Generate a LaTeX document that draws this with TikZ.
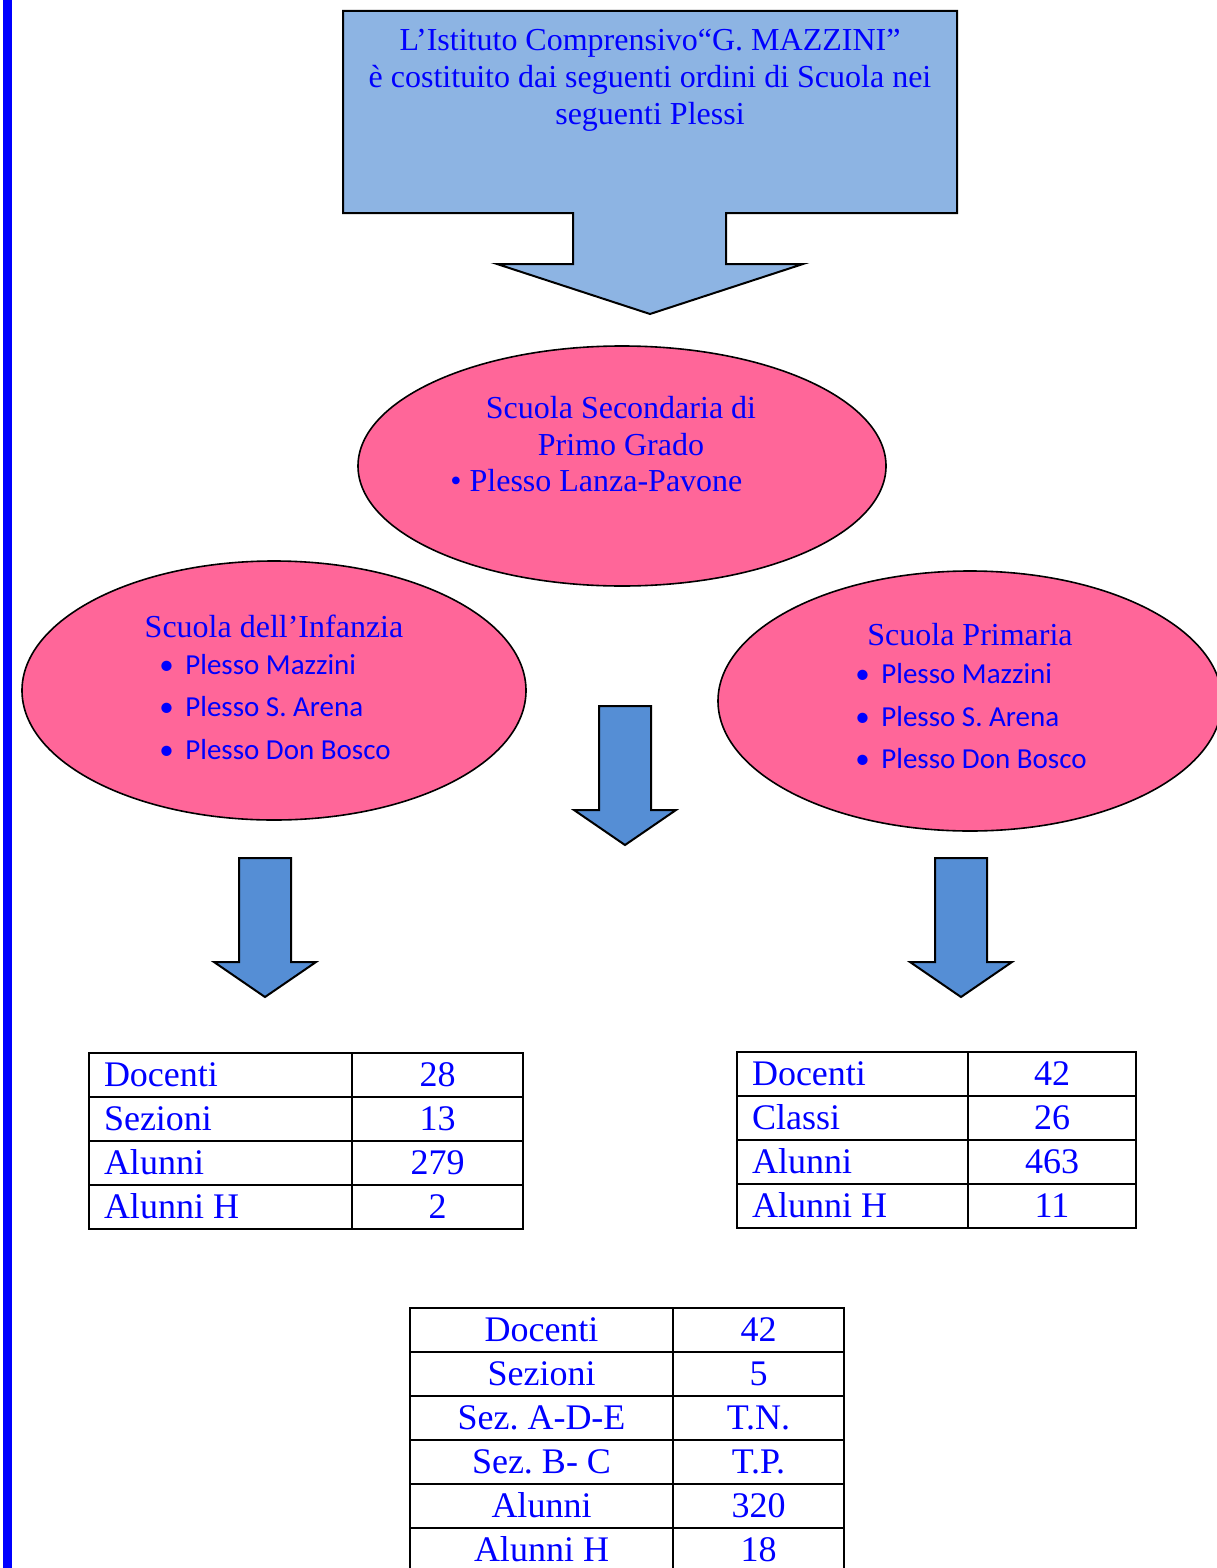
\documentclass[tikz,border=0pt]{standalone}
\usepackage{fontspec}
\setmainfont{Liberation Serif}
\newfontfamily\calibri{Carlito}
\usepackage{tikz}
\usetikzlibrary{positioning,shapes.geometric}
\usepackage{xcolor}

\definecolor{boxblue}{RGB}{141,180,227}
\definecolor{arrowblue}{RGB}{85,142,213}
\definecolor{schoolpink}{RGB}{255,102,153}

\newcommand{\pitem}[1]{\makebox[13pt][l]{•}#1}

\tikzset{
	callout/.style={draw=black, fill=boxblue, line width=1pt, line join=miter},
	blockarrow/.style={draw=black, fill=arrowblue, line width=1pt, line join=miter},
	school/.style={ellipse, draw=black, fill=schoolpink, line width=0.8pt, inner sep=0pt},
	txt/.style={text=blue, inner sep=0pt, align=center, font=\fontsize{16pt}{18.5pt}\selectfont},
	plist/.style={text=blue, inner sep=0pt, align=left, font=\calibri\fontsize{14.5pt}{21.25pt}\selectfont},
	cell/.style={draw=black, line width=1pt, rectangle, minimum height=22pt, inner ysep=0pt,
		text=blue, font=\fontsize{18pt}{21pt}\selectfont\frenchspacing, text height=13pt, text depth=1.3pt},
	keycell/.style={cell, inner xsep=7.5pt, align=flush left},
	valcell/.style={cell, inner xsep=0pt, align=center}
}

\begin{document}
\frenchspacing
\begin{tikzpicture}[x=0.5pt, y=-0.5pt]
\useasboundingbox (0,0) rectangle (1216,1568);
\fill[blue] (3,0) rectangle (12,1568);

% box on top, with its arrow
\draw[callout] (343,11) -- (957,11) -- (957,213) -- (726,213) -- (726,264) -- (803,264)
	-- (650,314) -- (497,264) -- (573,264) -- (573,213) -- (343,213) -- cycle;
\node[txt] (intro) at (650,80) {L’Istituto Comprensivo“G. MAZZINI”\\
	è costituito dai seguenti ordini di Scuola nei\\seguenti Plessi};

% the three schools
\node[school, minimum width=264pt, minimum height=120pt] (sec) at (622,466) {};
\node[txt] (sec-title) at (621,426) {Scuola Secondaria di\\Primo Grado};
\node[txt, anchor=base west] (sec-plesso) at (450,491) {• Plesso Lanza-Pavone};

\node[school, minimum width=252pt, minimum height=129.5pt] (inf) at (274,690.5) {};
\node[txt] (inf-title) at (274,626) {Scuola dell’Infanzia};
\node[plist, anchor=west] (inf-list) at (159,707)
	{\pitem{Plesso Mazzini}\\\pitem{Plesso S. Arena}\\\pitem{Plesso Don Bosco}};

\node[school, minimum width=252pt, minimum height=130pt] (pri) at (970,701) {};
\node[txt] (pri-title) at (970,635) {Scuola Primaria};
\node[plist, anchor=west] (pri-list) at (855,716.5)
	{\pitem{Plesso Mazzini}\\\pitem{Plesso S. Arena}\\\pitem{Plesso Don Bosco}};

% down arrows
\foreach \x/\y in {625/706, 265/858, 961/858}
	\draw[blockarrow] (\x-26,\y) -- (\x+26,\y) -- (\x+26,\y+104) -- (\x+51,\y+104)
		-- (\x,\y+139) -- (\x-51,\y+104) -- (\x-26,\y+104) -- cycle;

% tables
\foreach \lab/\val [count=\i] in {Docenti/28, Sezioni/13, Alunni/279, Alunni H/2}{
	\node[keycell, text width=116.5pt] (inf-k\i) at (220.5,1031+44*\i) {\lab};
	\node[valcell, minimum width=85.5pt] (inf-v\i) at (437.5,1031+44*\i) {\val};
}
\foreach \lab/\val [count=\i] in {Docenti/42, Classi/26, Alunni/463, Alunni H/11}{
	\node[keycell, text width=100.5pt] (pri-k\i) at (852.5,1030+44*\i) {\lab};
	\node[valcell, minimum width=84pt] (pri-v\i) at (1052,1030+44*\i) {\val};
}
\foreach \lab/\val [count=\i] in {Docenti/42, Sezioni/5, Sez. A-D-E/T.N., Sez. B- C/T.P., Alunni/320, Alunni H/18}{
	\node[valcell, minimum width=131.5pt] (sec-k\i) at (541.5,1286+44*\i) {\lab};
	\node[valcell, minimum width=85.5pt] (sec-v\i) at (758.5,1286+44*\i) {\val};
}
\end{tikzpicture}
\end{document}
